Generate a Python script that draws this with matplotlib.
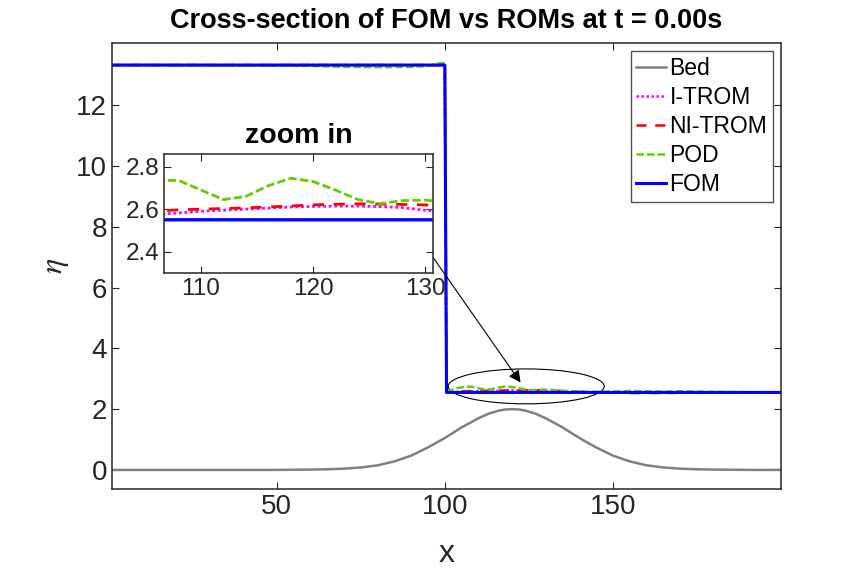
import numpy as np
import matplotlib
matplotlib.use("Agg")
import matplotlib.pyplot as plt
from matplotlib.patches import Ellipse

plt.rcParams['font.family'] = ['Liberation Sans', 'DejaVu Sans']
plt.rcParams['mathtext.fontset'] = 'stix'

# bed profile
x_bed = [1, 40, 50, 60, 65, 70, 75, 80, 85, 90, 95, 100, 105, 110, 113, 116, 118, 120,
         122, 124, 127, 130, 135, 140, 145, 150, 155, 160, 165, 170, 175, 180, 190, 200]
bed = [0.00, 0.00, 0.00, 0.01, 0.02, 0.04, 0.08, 0.15, 0.28, 0.47, 0.74, 1.05, 1.40, 1.70, 1.85, 1.95, 1.99, 2.00,
       1.99, 1.95, 1.85, 1.70, 1.40, 1.05, 0.74, 0.47, 0.28, 0.15, 0.08, 0.04, 0.02, 0.01, 0.00, 0.00]

# full order model
x_fom = [1, 100, 100.5, 200]
fom = [13.33, 13.33, 2.55, 2.55]

# reduced models on a common grid
x_rom = [1, 20, 40, 60, 70, 80, 90, 95, 98, 99.5, 100, 100.5, 102, 104, 106, 108, 110, 112, 114, 116,
         118, 120, 122, 124, 126, 128, 130, 132, 136, 140, 145, 150, 155, 160, 165, 170, 175, 180, 190, 200]
pod = [13.33, 13.33, 13.32, 13.30, 13.27, 13.26, 13.27, 13.30, 13.38, 13.40, 13.33, 2.56, 2.63, 2.70,
       2.735, 2.735, 2.69, 2.645, 2.66, 2.71, 2.745, 2.73, 2.69, 2.645, 2.626, 2.64, 2.643, 2.63,
       2.60, 2.58, 2.57, 2.58, 2.60, 2.59, 2.58, 2.59, 2.58, 2.57, 2.56, 2.56]
ni_trom = [13.33, 13.33, 13.33, 13.33, 13.33, 13.33, 13.33, 13.33, 13.33, 13.33, 13.33, 2.56, 2.57, 2.58,
           2.59, 2.597, 2.60, 2.603, 2.606, 2.61, 2.615, 2.62, 2.623, 2.625, 2.624, 2.622, 2.62, 2.61,
           2.59, 2.57, 2.56, 2.55, 2.53, 2.53, 2.53, 2.54, 2.55, 2.55, 2.55, 2.55]
i_trom = [13.33, 13.33, 13.33, 13.33, 13.33, 13.33, 13.33, 13.33, 13.33, 13.33, 13.33, 2.55, 2.56, 2.565,
          2.575, 2.582, 2.59, 2.595, 2.60, 2.605, 2.61, 2.613, 2.614, 2.614, 2.612, 2.607, 2.595, 2.585,
          2.57, 2.56, 2.55, 2.55, 2.55, 2.55, 2.55, 2.55, 2.55, 2.55, 2.55, 2.55]

axis_color = '#262626'
c_bed, c_i, c_ni, c_pod, c_fom = '#808080', '#ff00ff', '#ff0000', '#66cc00', '#0000ff'


def draw_lines(ax, lw=1.8):
    ax.plot(x_bed, bed, color=c_bed, lw=lw, label='Bed')
    ax.plot(x_rom, i_trom, color=c_i, lw=lw, linestyle=(0, (1, 1)), label='I-TROM')
    ax.plot(x_rom, ni_trom, color=c_ni, lw=lw, linestyle=(0, (4, 3.5)), label='NI-TROM')
    ax.plot(x_rom, pod, color=c_pod, lw=lw, linestyle=(0, (3, 1.2)), label='POD')
    ax.plot(x_fom, fom, color=c_fom, lw=lw + 0.4, label='FOM')


def style_axes(ax, size):
    for s in ax.spines.values():
        s.set_color(axis_color)
        s.set_linewidth(1.1)
    ax.tick_params(direction='in', top=True, right=True, colors=axis_color,
                   labelsize=size, length=5, width=0.8)


fig = plt.figure(figsize=(8.64, 5.76), dpi=100)
ax = fig.add_axes([0.1296, 0.151, 0.7744, 0.774])
draw_lines(ax)
ax.set_xlim(1, 200)
ax.set_ylim(-0.63, 14.05)
ax.set_xticks([50, 100, 150])
ax.set_yticks([0, 2, 4, 6, 8, 10, 12])
style_axes(ax, 20)
ax.set_xlabel('x', fontsize=23, color=axis_color, labelpad=14)
ax.set_ylabel(r'$\eta$', fontsize=23, color=axis_color, labelpad=4)
ax.set_title('Cross-section of FOM vs ROMs at t = 0.00s', fontsize=19.5, fontweight='bold', pad=11)

ax.add_patch(Ellipse((124.2, 2.75), width=46.4, height=1.15, fill=False, color='k', lw=0.8))
ax.annotate('', xy=(123, 2.80), xytext=(95.6, 7.14),
            arrowprops=dict(arrowstyle='-|>', color='k', lw=0.8, mutation_scale=18))

leg = ax.legend(loc='upper right', fontsize=16.5, frameon=True, fancybox=False,
                edgecolor=axis_color, handlelength=1.3, handletextpad=0.15,
                labelspacing=0.26, borderpad=0.25, borderaxespad=0.35)
leg.get_frame().set_linewidth(1.0)

ins = fig.add_axes([0.1898, 0.526, 0.3113, 0.207])
draw_lines(ins, lw=2.0)
ins.set_xlim(106.7, 130.7)
ins.set_ylim(2.3, 2.86)
ins.set_xticks([110, 120, 130])
ins.set_yticks([2.4, 2.6, 2.8])
style_axes(ins, 17.5)
ins.set_title('zoom in', fontsize=20.5, fontweight='bold', pad=8)

fig.savefig('out.png', dpi=100, facecolor='white')
